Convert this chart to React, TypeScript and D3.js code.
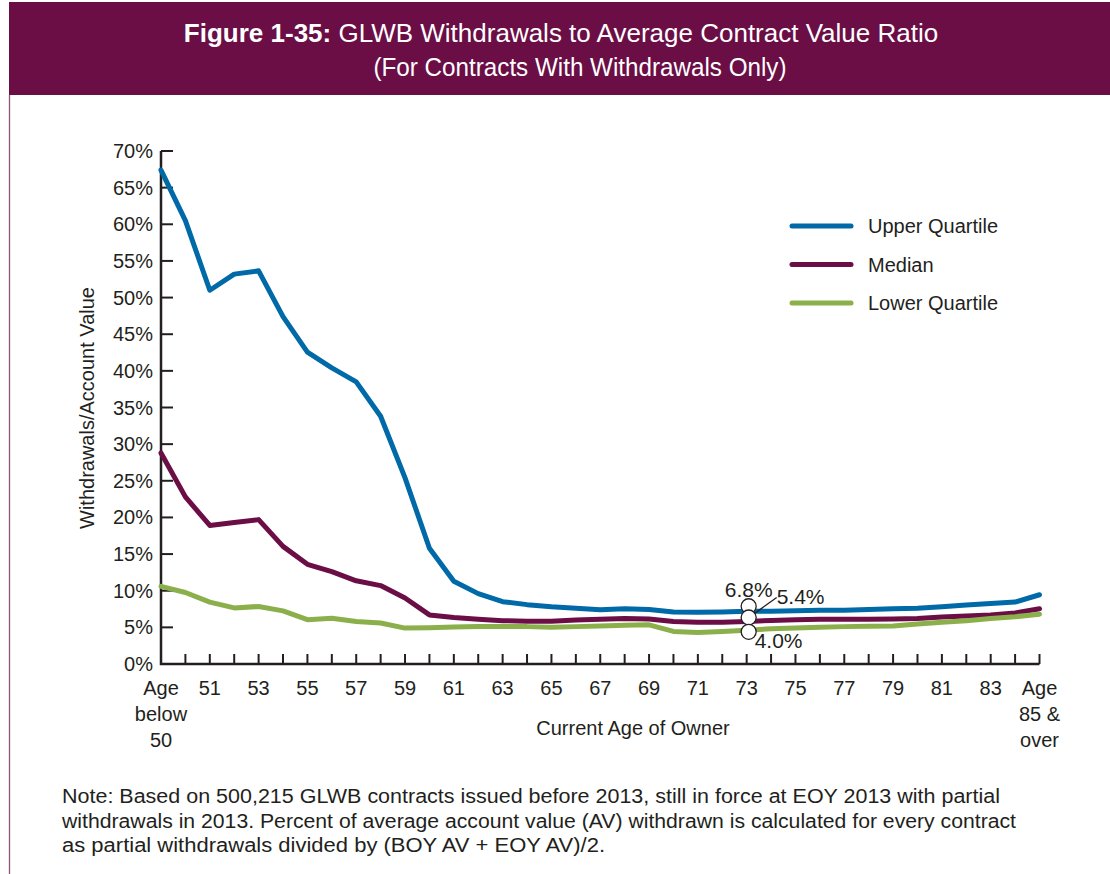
import { useEffect, useRef } from "react";
import * as d3 from "d3";

// age buckets along the x axis
const categories = [
  "below 50", "50", "51", "52", "53", "54", "55", "56", "57", "58", "59",
  "60", "61", "62", "63", "64", "65", "66", "67", "68", "69", "70", "71",
  "72", "73", "74", "75", "76", "77", "78", "79", "80", "81", "82", "83",
  "84", "85 & over",
];

// withdrawals / account value, in %
const upperQuartile = [
  67.4, 60.5, 51.0, 53.2, 53.65, 47.4, 42.55, 40.4, 38.5, 33.8, 25.4, 15.8,
  11.3, 9.6, 8.5, 8.1, 7.8, 7.6, 7.4, 7.55, 7.45, 7.1, 7.05, 7.1, 7.2, 7.2,
  7.25, 7.35, 7.35, 7.45, 7.55, 7.6, 7.8, 8.05, 8.25, 8.45, 9.45,
];
const median = [
  28.8, 22.8, 18.9, 19.3, 19.7, 16.05, 13.6, 12.6, 11.35, 10.7, 9.0, 6.7,
  6.35, 6.1, 5.9, 5.85, 5.85, 6.0, 6.1, 6.2, 6.15, 5.8, 5.7, 5.7, 5.8, 5.95,
  6.05, 6.1, 6.1, 6.1, 6.15, 6.2, 6.4, 6.55, 6.7, 6.95, 7.55,
];
const lowerQuartile = [
  10.6, 9.75, 8.45, 7.65, 7.85, 7.25, 6.05, 6.25, 5.8, 5.6, 4.9, 4.95, 5.05,
  5.1, 5.1, 5.1, 5.0, 5.1, 5.2, 5.3, 5.35, 4.45, 4.3, 4.45, 4.6, 4.8, 4.9,
  5.0, 5.1, 5.15, 5.2, 5.45, 5.7, 5.9, 6.2, 6.45, 6.8,
];

const yTicks = [0, 5, 10, 15, 20, 25, 30, 35, 40, 45, 50, 55, 60, 65, 70];

const seriesNames = ["Upper Quartile", "Median", "Lower Quartile"];
const seriesColors = ["#0069a7", "#6b0e46", "#8bb04b"];

// callout at age 73
const calloutAge = "73";
const calloutLabels = ["6.8%", "5.4%", "4.0%"];

const noteLines = [
  "Note: Based on 500,215 GLWB contracts issued before 2013, still in force at EOY 2013 with partial",
  "withdrawals in 2013. Percent of average account value (AV) withdrawn is calculated for every contract",
  "as partial withdrawals divided by (BOY AV + EOY AV)/2.",
];
const noteWidths = [938, 954, 543];

const FONT = "'Liberation Sans', Arial, sans-serif";
const INK = "#231f20";
const PLUM = "#6a0e45";

function tickLines(c: string): string[] {
  if (c === "below 50") return ["Age", "below", "50"];
  if (c === "85 & over") return ["Age", "85 &", "over"];
  return +c % 2 === 1 ? [c] : [];
}

const App = () => {
  const ref = useRef<HTMLDivElement | null>(null);

  function draw(svg: any) {
    svg.attr("width", 1110).attr("height", 874).style("font-family", FONT);

    // header band
    svg.append("rect").attr("x", 9).attr("y", 2).attr("width", 1101).attr("height", 93).attr("fill", PLUM);
    svg.append("line").attr("x1", 9.5).attr("x2", 9.5).attr("y1", 95).attr("y2", 874)
      .attr("stroke", "#8c5577").attr("stroke-width", 1.3);

    const t1 = svg.append("text").attr("x", 561).attr("y", 42).attr("text-anchor", "middle")
      .attr("fill", "#fff").attr("font-size", 26);
    t1.append("tspan").attr("font-weight", "bold").text("Figure 1-35:");
    t1.append("tspan").text(" GLWB Withdrawals to Average Contract Value Ratio");
    svg.append("text").attr("x", 580).attr("y", 76).attr("text-anchor", "middle")
      .attr("fill", "#fff").attr("font-size", 26)
      .attr("textLength", 413).attr("lengthAdjust", "spacingAndGlyphs")
      .text("(For Contracts With Withdrawals Only)");

    const x = d3.scalePoint().domain(categories).range([161, 1039.5]);
    const y = d3.scaleLinear().domain([0, 70]).range([664, 151]);

    // y ticks + labels
    const gy = svg.append("g");
    yTicks.forEach((v) => {
      gy.append("line").attr("x1", 161).attr("x2", 173).attr("y1", y(v)).attr("y2", y(v))
        .attr("stroke", INK).attr("stroke-width", 2);
      gy.append("text").attr("x", 153).attr("y", y(v) + 7).attr("text-anchor", "end")
        .attr("font-size", 20).attr("fill", INK).text(`${v}%`);
    });

    // x ticks + labels
    const gx = svg.append("g");
    categories.forEach((c, i) => {
      if (i > 0)
        gx.append("line").attr("x1", x(c)).attr("x2", x(c)).attr("y1", 664).attr("y2", 654)
          .attr("stroke", INK).attr("stroke-width", 2);
      tickLines(c).forEach((s, k) => {
        gx.append("text").attr("x", x(c)).attr("y", 695 + k * 26).attr("text-anchor", "middle")
          .attr("font-size", 20).attr("fill", INK).text(s);
      });
    });

    // axes
    svg.append("path").attr("d", `M161,151V664H1039.5`).attr("fill", "none")
      .attr("stroke", INK).attr("stroke-width", 2.5);

    svg.append("text").attr("transform", "translate(94,408) rotate(-90)").attr("text-anchor", "middle")
      .attr("font-size", 20).attr("fill", INK).text("Withdrawals/Account Value");
    svg.append("text").attr("x", 633).attr("y", 735).attr("text-anchor", "middle")
      .attr("font-size", 20).attr("fill", INK).text("Current Age of Owner");

    // series lines
    const line = d3.line<number>()
      .x((_, i) => x(categories[i]) as number)
      .y((d) => y(d));
    [upperQuartile, median, lowerQuartile].forEach((s, k) => {
      svg.append("path").datum(s).attr("d", line).attr("fill", "none")
        .attr("stroke", seriesColors[k]).attr("stroke-width", 5)
        .attr("stroke-linejoin", "round").attr("stroke-linecap", "round");
    });

    // legend
    seriesNames.forEach((n, k) => {
      const ly = 226 + k * 38.5;
      svg.append("line").attr("x1", 792).attr("x2", 851).attr("y1", ly).attr("y2", ly)
        .attr("stroke", seriesColors[k]).attr("stroke-width", 5).attr("stroke-linecap", "round");
      svg.append("text").attr("x", 868).attr("y", ly + 7).attr("font-size", 20).attr("fill", INK).text(n);
    });

    // callout at 73
    const ci = categories.indexOf(calloutAge);
    const cx = (x(calloutAge) as number) + 2;
    const cy = [y(upperQuartile[ci]) - 5, y(median[ci]) - 4, y(lowerQuartile[ci]) + 1.5];
    svg.append("line").attr("x1", cx + 3).attr("y1", cy[1] - 2).attr("x2", cx + 28).attr("y2", cy[1] - 20)
      .attr("stroke", INK).attr("stroke-width", 1.3);
    cy.forEach((v) => {
      svg.append("circle").attr("cx", cx).attr("cy", v).attr("r", 7.5)
        .attr("fill", "#fff").attr("stroke", INK).attr("stroke-width", 1.3);
    });
    svg.append("text").attr("x", cx).attr("y", cy[0] - 9).attr("text-anchor", "middle")
      .attr("font-size", 21).attr("fill", INK).text(calloutLabels[0]);
    svg.append("text").attr("x", cx + 28).attr("y", cy[1] - 13).attr("font-size", 21).attr("fill", INK)
      .text(calloutLabels[1]);
    svg.append("text").attr("x", cx + 6).attr("y", cy[2] + 16).attr("font-size", 21).attr("fill", INK)
      .text(calloutLabels[2]);

    // note
    noteLines.forEach((s, k) => {
      svg.append("text").attr("x", 62).attr("y", 803 + k * 24.5).attr("font-size", 19.5)
        .attr("textLength", noteWidths[k]).attr("lengthAdjust", "spacingAndGlyphs")
        .attr("fill", INK).text(s);
    });
  }

  useEffect(() => {
    if (ref.current) {
      const svg = d3.select(ref.current).append("svg");
      draw(svg);
      return () => {
        svg.remove();
      };
    }
  }, []);

  return <div ref={ref} style={{ position: "absolute", left: 0, top: 0 }}></div>;
};

export default App;
